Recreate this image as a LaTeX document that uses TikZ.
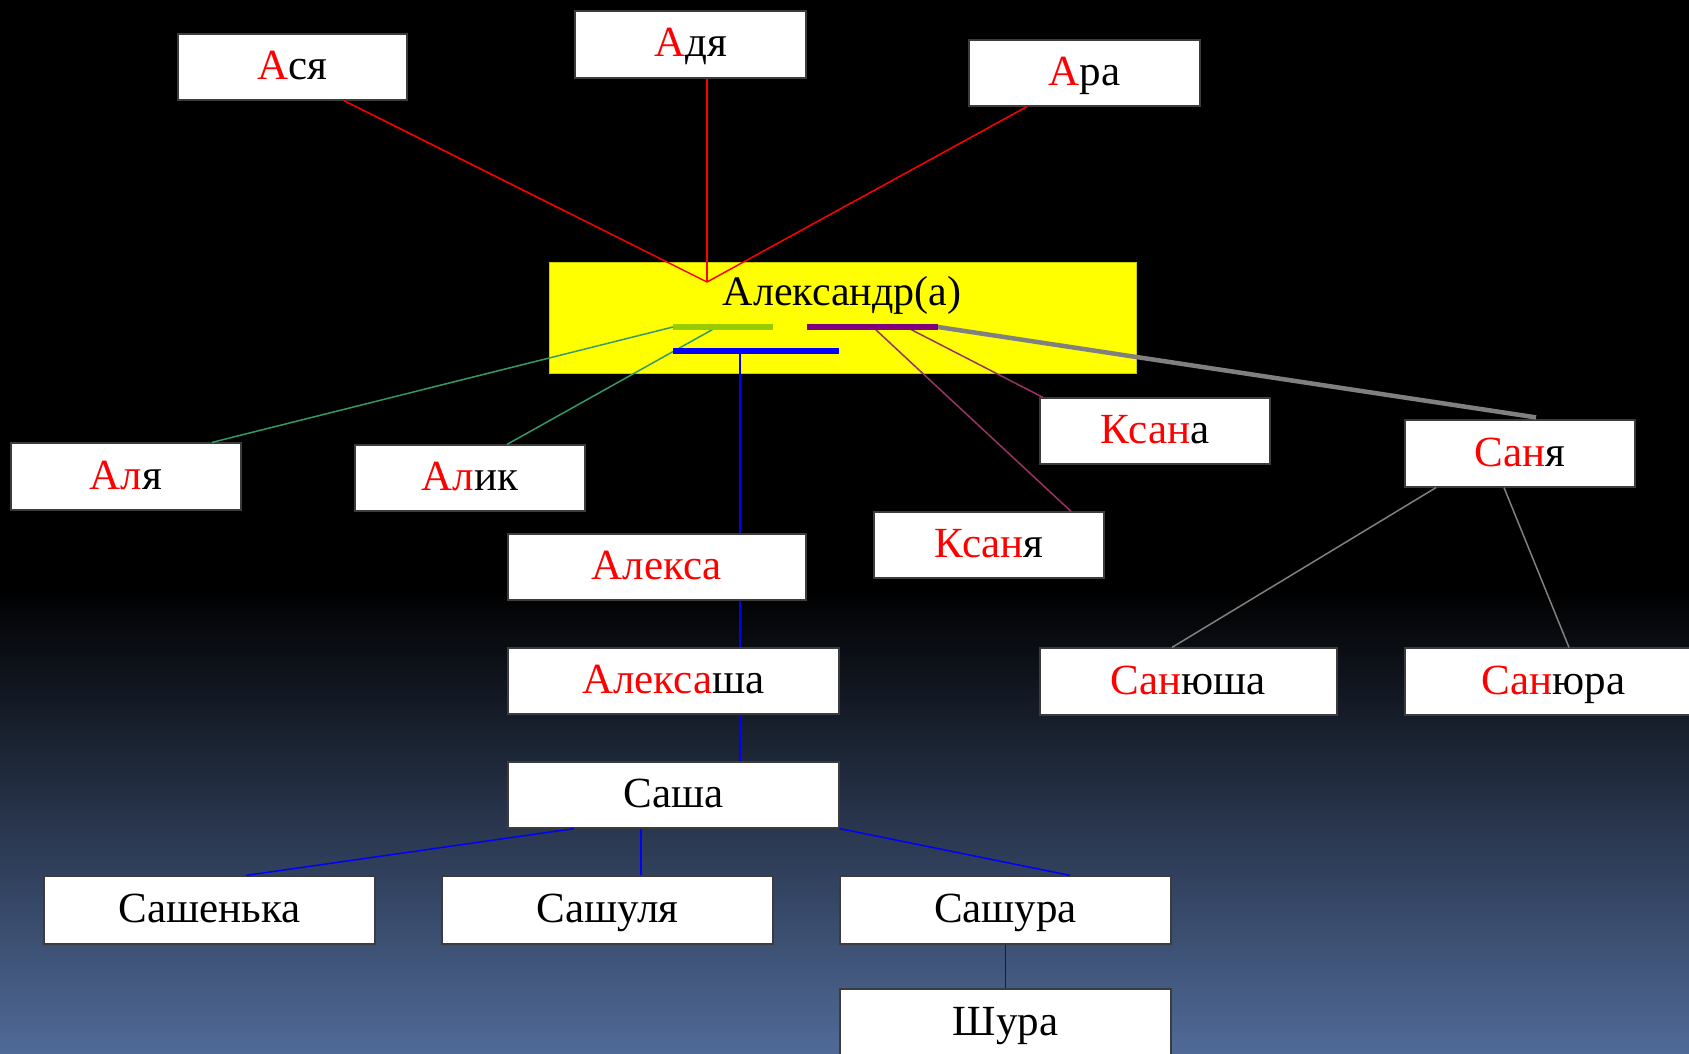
\documentclass[tikz,border=0pt]{standalone}
\usepackage{fontspec}
\setmainfont{Liberation Serif}
\usetikzlibrary{calc}
\definecolor{bgblue}{RGB}{80,106,152}
\definecolor{barGreen}{RGB}{153,204,0}
\definecolor{barPurple}{RGB}{128,0,128}
\definecolor{lnTeal}{RGB}{51,153,102}
\definecolor{lnMag}{RGB}{153,51,102}
\definecolor{lnGray}{RGB}{128,128,128}
\definecolor{boxLine}{RGB}{60,60,60}
\definecolor{mainYellow}{RGB}{255,255,0}
\newcommand{\rd}[1]{\textcolor{red}{#1}}
\begin{document}
\begin{tikzpicture}[x=1pt,y=-1pt,
  box/.style={draw=boxLine, line width=1.2pt, fill=white, inner sep=0pt,
    font=\fontsize{43}{48}\selectfont, text=black, text height=34pt, text depth=9pt},
  redln/.style={draw=red, line width=1.5pt},
  tealln/.style={draw=lnTeal, line width=1.5pt},
  magln/.style={draw=lnMag, line width=1.5pt},
  grayln/.style={draw=lnGray, line width=1.5pt},
  blueln/.style={draw=blue, line width=1.5pt},
  bar/.style={line width=5.5pt}]
\useasboundingbox (0,0) rectangle (1689,1054);
\fill[black] (0,0) rectangle (1689,590);
\shade[top color=black, bottom color=bgblue] (0,589) rectangle (1689,1054);

% main
\node[fill=mainYellow, draw=mainYellow!80!black, line width=1pt, minimum width=587pt, minimum height=111pt, inner sep=0pt] (main) at (842.5,317.5) {};
\node[anchor=base, font=\fontsize{42}{48}\selectfont, text=black, inner sep=0pt] (maintext) at (842,305) {Александр(а)};

% top
\node[box, minimum width=229pt, minimum height=66pt] (asya) at (292.5,67) {\rd{А}ся};
\node[box, minimum width=231pt, minimum height=67pt] (adya) at (690.5,44.5) {\rd{А}дя};
\node[box, minimum width=231pt, minimum height=66pt] (ara) at (1084.5,73) {\rd{А}ра};

% middle row
\node[box, minimum width=230pt, minimum height=67pt] (alya) at (126,476.5) {\rd{Ал}я};
\node[box, minimum width=230pt, minimum height=66pt] (alik) at (470,478) {\rd{Ал}ик};
\node[box, minimum width=230pt, minimum height=66pt] (ksana) at (1155,431) {\rd{Ксан}а};
\node[box, minimum width=230pt, minimum height=67pt] (sanya) at (1520,453.5) {\rd{Сан}я};
\node[box, minimum width=230pt, minimum height=66pt] (ksanya) at (989,545) {\rd{Ксан}я};
\node[box, minimum width=298pt, minimum height=66pt] (aleksa) at (657,567) {\rd{Алекса}};
\node[box, minimum width=331pt, minimum height=66pt] (aleksasha) at (673.5,681) {\rd{Алекса}ша};
\node[box, minimum width=297pt, minimum height=67pt] (sanyusha) at (1188.5,681.5) {\rd{Сан}юша};
\node[box, minimum width=297pt, minimum height=67pt] (sanyura) at (1553.5,681.5) {\rd{Сан}юра};
\node[box, minimum width=331pt, minimum height=66pt] (sasha) at (673.5,795) {Саша};
\node[box, minimum width=331pt, minimum height=68pt] (sashenka) at (209.5,910) {Сашенька};
\node[box, minimum width=331pt, minimum height=68pt] (sashulya) at (607.5,910) {Сашуля};
\node[box, minimum width=331pt, minimum height=68pt] (sashura) at (1005.5,910) {Сашура};
\node[box, minimum width=331pt, minimum height=68pt] (shura) at (1005.5,1023) {Шура};

% points inside main box
\coordinate (apex) at (707,282);
\coordinate (gL) at (673,327);
\coordinate (gR) at (773,327);
\coordinate (gM) at (717,327);
\coordinate (pL) at (807,327);
\coordinate (pR) at (938,327);
\coordinate (pA) at (875,329);
\coordinate (pB) at (910,329);
\coordinate (bL) at (673,351);
\coordinate (bR) at (839,351);
\coordinate (bM) at (740,351);

% red lines
\draw[redln] ($(asya.south)+(51.5,0)$) -- (apex);
\draw[redln] ($(adya.south)+(16.5,0)$) -- (apex);
\draw[redln] ($(ara.south)+(-57.5,0)$) -- (apex);

% teal
\draw[tealln] (gL) -- ($(alya.north)+(86,0)$);
\draw[tealln] (gM) -- ($(alik.north)+(37,0)$);

% magenta
\draw[magln] (pA) -- ($(ksanya.north)+(82,0)$);
\draw[magln] (pB) -- ($(ksana.north)+(-112,0)$);

% gray
\draw[draw=lnGray, line width=4.5pt] (pR) -- ($(sanya.north)+(16,-2)$);
\draw[grayln] ($(sanya.south)+(-84,0)$) -- ($(sanyusha.north)+(-16.5,0)$);
\draw[grayln] ($(sanya.south)+(-16,0)$) -- ($(sanyura.north)+(15.5,0)$);

% blue
\draw[blueln] (bM) -- (bM |- aleksa.north);
\draw[blueln] (bM |- aleksa.south) -- (bM |- aleksasha.north);
\draw[blueln] (bM |- aleksasha.south) -- (bM |- sasha.north);
\draw[blueln] ($(sasha.south)+(-99.5,0)$) -- ($(sashenka.north)+(36.5,0)$);
\draw[blueln] ($(sasha.south)+(-32.5,0)$) -- ($(sashulya.north)+(33.5,0)$);
\draw[blueln] (sasha.south east) -- ($(sashura.north)+(64.5,0)$);
\draw[blueln] (sashura.south) -- (shura.north);

% bars
\draw[bar, barGreen] (gL) -- (gR);
\draw[bar, barPurple] (pL) -- (pR);
\draw[bar, blue] (bL) -- (bR);
\end{tikzpicture}
\end{document}
